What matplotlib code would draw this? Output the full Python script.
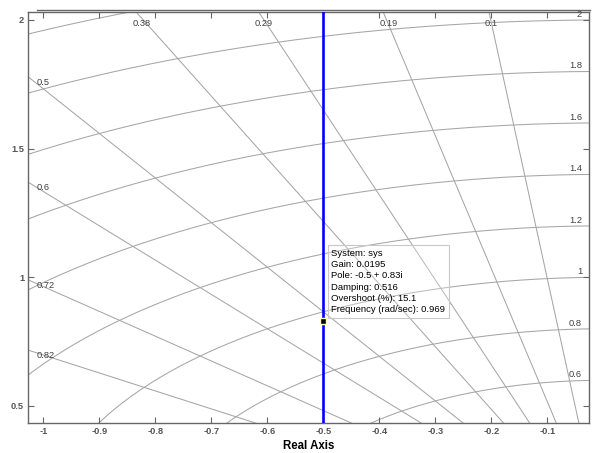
import numpy as np
import matplotlib
matplotlib.use("Agg")
import matplotlib.pyplot as plt
from matplotlib.lines import Line2D
import matplotlib.transforms as mtransforms

plt.rcParams["font.family"] = ["Liberation Sans", "DejaVu Sans"]

# sgrid values (as labelled on the chart)
zeta_vals = [0.1, 0.19, 0.29, 0.38, 0.5, 0.6, 0.72, 0.82]
zeta_labels = ["0.1", "0.19", "0.29", "0.38", "0.5", "0.6", "0.72", "0.82"]
wn_vals = [0.6, 0.8, 1.0, 1.2, 1.4, 1.6, 1.8, 2.0, 2.2]
wn_labels = ["0.6", "0.8", "1", "1.2", "1.4", "1.6", "1.8", "2", ""]

# root locus branch (vertical line at Re = -0.5)
locus_x = [-0.5, -0.5]
locus_y = [0.0, 3.0]

# selected point / data tip
tip_x = -0.5
tip_y = 0.83
tip_lines = ["System: sys", "Gain: 0.0195", "Pole: -0.5 + 0.83i",
             "Damping: 0.516", "Overshoot (%): 15.1", "Frequency (rad/sec): 0.969"]

xticks = [-1, -0.9, -0.8, -0.7, -0.6, -0.5, -0.4, -0.3, -0.2, -0.1]
xticklabels = ["-1", "-0.9", "-0.8", "-0.7", "-0.6", "-0.5", "-0.4", "-0.3", "-0.2", "-0.1"]
yticks = [0.5, 1, 1.5, 2]
yticklabels = ["0.5", "1", "1.5", "2"]

xmin, xmax = -1.027, -0.0255
ymin, ymax = 0.435, 2.031

grid_col = "#a6a6a6"
txt_col = "#404040"
axis_col = "#666666"

fig = plt.figure(figsize=(5.94, 4.53), dpi=100)
ax = fig.add_axes([28.3 / 594, 1 - 422.7 / 453, (589 - 28.3) / 594, (422.7 - 12) / 453])
ax.set_xlim(xmin, xmax)
ax.set_ylim(ymin, ymax)

# damping rays
r = np.linspace(0, 4, 50)
for z in zeta_vals:
    ax.plot(-r * z, r * np.sqrt(1 - z ** 2), color=grid_col, lw=0.75, zorder=1)

# natural frequency arcs
th = np.linspace(np.pi / 2, np.pi, 400)
for w in wn_vals:
    ax.plot(w * np.cos(th), w * np.sin(th), color=grid_col, lw=0.75, zorder=1)

# damping labels: at the top edge or the left edge
for z, lab in zip(zeta_vals, zeta_labels):
    t = np.sqrt(1 - z ** 2) / z
    xt = -ymax / t
    if xt >= xmin:
        off = mtransforms.offset_copy(ax.transData, fig=fig, x=-4, y=-7, units="dots")
        ax.text(xt, ymax, lab, fontsize=6.7, color=txt_col, ha="left", va="top",
                transform=off, zorder=3)
    else:
        yl = -xmin * t
        off = mtransforms.offset_copy(ax.transData, fig=fig, x=8, y=-1, units="dots")
        ax.text(xmin, yl, lab, fontsize=6.7, color=txt_col, ha="left", va="top",
                transform=off, zorder=3)

# natural frequency labels on the right edge
for w, lab in zip(wn_vals, wn_labels):
    if not lab:
        continue
    yr = np.sqrt(w ** 2 - xmax ** 2)
    off = mtransforms.offset_copy(ax.transData, fig=fig, x=-7, y=1, units="dots")
    ax.text(xmax, yr, lab, fontsize=6.7, color=txt_col, ha="right", va="bottom",
            transform=off, zorder=3)

# locus
ax.plot(locus_x, locus_y, color="#0000ff", lw=1.9, zorder=4)

# data tip
ax.plot([tip_x], [tip_y], marker="s", ms=4.5, mfc="black", mec="#ffffc0", mew=1, zorder=6)
off = mtransforms.offset_copy(ax.transData, fig=fig, x=8, y=7, units="dots")
ax.text(tip_x, tip_y, "\n".join(tip_lines), fontsize=6.8, color="black",
        ha="left", va="bottom", linespacing=1.32, transform=off, zorder=5,
        bbox=dict(boxstyle="square,pad=0.4", fc=(1, 1, 1, 0.25), ec="#c8c8c8", lw=0.8))

ax.set_xticks(xticks)
ax.set_xticklabels(xticklabels)
ax.set_yticks(yticks)
ax.set_yticklabels(yticklabels)
ax.tick_params(direction="in", length=4, width=0.8, color=axis_col, labelcolor="#555555",
               labelsize=6.7, top=True, right=True, pad=3)
for lbl in ax.get_xticklabels() + ax.get_yticklabels():
    lbl.set_fontweight("bold")
for sp in ax.spines.values():
    sp.set_color(axis_col)
    sp.set_linewidth(1.0)

ax.set_xlabel("Real Axis", fontsize=8.3, fontweight="bold", color="black", labelpad=3)

# extra border line above the axes
fig.add_artist(Line2D([37 / 594, 590 / 594], [1 - 10.3 / 453, 1 - 10.3 / 453],
                      color=axis_col, lw=1.0))

fig.savefig("out.png", dpi=100)
